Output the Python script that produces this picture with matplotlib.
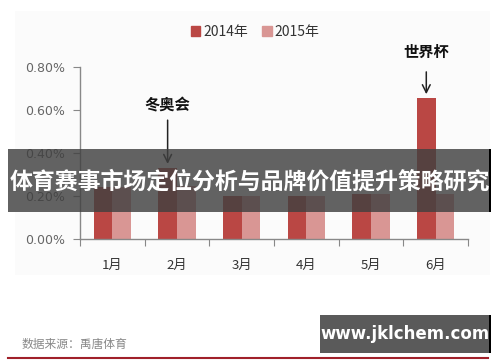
import matplotlib
matplotlib.use("Agg")
import matplotlib.pyplot as plt
from matplotlib.patches import Rectangle, Patch
import numpy as np

plt.rcParams['font.family'] = ['Noto Sans CJK SC', 'DejaVu Sans']

months = ['1月', '2月', '3月', '4月', '5月', '6月']
series_names = ['2014年', '2015年']
values_2014 = [0.24, 0.33, 0.20, 0.20, 0.21, 0.655]
values_2015 = [0.24, 0.245, 0.20, 0.20, 0.21, 0.21]
yticks = [0.0, 0.2, 0.4, 0.6, 0.8]
ytick_labels = ['0.00%', '0.20%', '0.40%', '0.60%', '0.80%']
title_text = '体育赛事市场定位分析与品牌价值提升策略研究'
source_text = '数据来源：禹唐体育'
watermark_text = 'www.jklchem.com'
annotations = [('冬奥会', 1, 0), ('世界杯', 5, 0)]

c2014 = '#BA4744'
c2015 = '#D99694'

fig = plt.figure(figsize=(5.0, 3.62), dpi=100)
fig.patch.set_facecolor('white')

# faint chart background
fig.patches.append(Rectangle((0.03, 0.24), 0.95, 0.73, transform=fig.transFigure,
                             facecolor='#FBFBFB', edgecolor='none', zorder=-5))

ax = fig.add_axes([0.16, 0.341, 0.776, 0.474])
ax.set_zorder(1)
ax.set_facecolor('none')
x = np.arange(len(months))
w = 0.29
ax.bar(x - w / 2, values_2014, width=w, color=c2014, zorder=2)
ax.bar(x + w / 2, values_2015, width=w, color=c2015, zorder=2)
ax.set_xlim(-0.5, 5.5)
ax.set_ylim(0, 0.8)
ax.set_yticks(yticks)
ax.set_yticklabels(ytick_labels, fontsize=9, color='#666666', family='DejaVu Sans')
ax.set_xticks(np.arange(-0.5, 6.0, 1.0))
ax.set_xticklabels([])
ax.set_xticks(x, minor=True)
ax.set_xticklabels(months, minor=True, fontsize=9.5, color='#333333')
ax.tick_params(axis='x', which='minor', length=0, pad=15)
ax.tick_params(axis='x', which='major', length=5, color='#888888', direction='out')
ax.tick_params(axis='y', length=5, color='#888888', direction='out', pad=6)
for s in ['top', 'right']:
    ax.spines[s].set_visible(False)
for s in ['left', 'bottom']:
    ax.spines[s].set_color('#888888')
    ax.spines[s].set_linewidth(1.0)

# annotations
vals = [values_2014, values_2015]
for label, idx, ser in annotations:
    xv = idx - w / 2
    top = vals[ser][idx]
    ax.annotate('', xy=(xv, top + 0.005), xytext=(xv, top + 0.235 if idx == 1 else top + 0.135),
                arrowprops=dict(arrowstyle='->', color='#222222', lw=1.1, mutation_scale=14),
                annotation_clip=False, zorder=3)
    ax.text(xv, top + 0.29 if idx == 1 else top + 0.215, label, ha='center', va='center',
            fontsize=11, fontweight='bold', color='#111111', clip_on=False)

# legend
handles = [Patch(color=c2014), Patch(color=c2015)]
fig.legend(handles, series_names, loc='center', bbox_to_anchor=(0.51, 0.912), ncol=2,
           frameon=False, fontsize=10, handlelength=0.7, handleheight=0.7,
           handletextpad=0.2, columnspacing=1.0, labelcolor='#333333')

# banner
fig.patches.append(Rectangle((8 / 500, 1 - 212 / 362), 482 / 500, 63 / 362,
                             transform=fig.transFigure, facecolor='#404040',
                             alpha=0.82, edgecolor='none', zorder=5))
fig.patches.append(Rectangle((489 / 500, 1 - 212 / 362), 2 / 500, 63 / 362,
                             transform=fig.transFigure, facecolor='#000000',
                             edgecolor='none', zorder=5))
fig.text(0.5, 1 - 182 / 362, title_text, ha='center', va='center', fontsize=16.5,
         fontweight='bold', color='white', zorder=6)

# source
fig.text(22 / 500, 1 - 344 / 362, source_text, ha='left', va='center', fontsize=8.5,
         color='#888888')
fig.lines.append(plt.Line2D([8 / 500, 488 / 500], [1 - 358 / 362, 1 - 358 / 362],
                            transform=fig.transFigure, color='#A0202A', lw=1.5))

# watermark box
fig.patches.append(Rectangle((320 / 500, 1 - 353 / 362), 170 / 500, 38 / 362,
                             transform=fig.transFigure, facecolor='#5a5a5a',
                             edgecolor='none', zorder=5))
fig.patches.append(Rectangle((489 / 500, 1 - 353 / 362), 2 / 500, 38 / 362,
                             transform=fig.transFigure, facecolor='#000000',
                             edgecolor='none', zorder=5))
fig.text(405 / 500, 1 - 334 / 362, watermark_text, ha='center', va='center', fontsize=12,
         fontweight='bold', color='white', zorder=6, family='DejaVu Sans')

fig.savefig('out.png', dpi=100)
